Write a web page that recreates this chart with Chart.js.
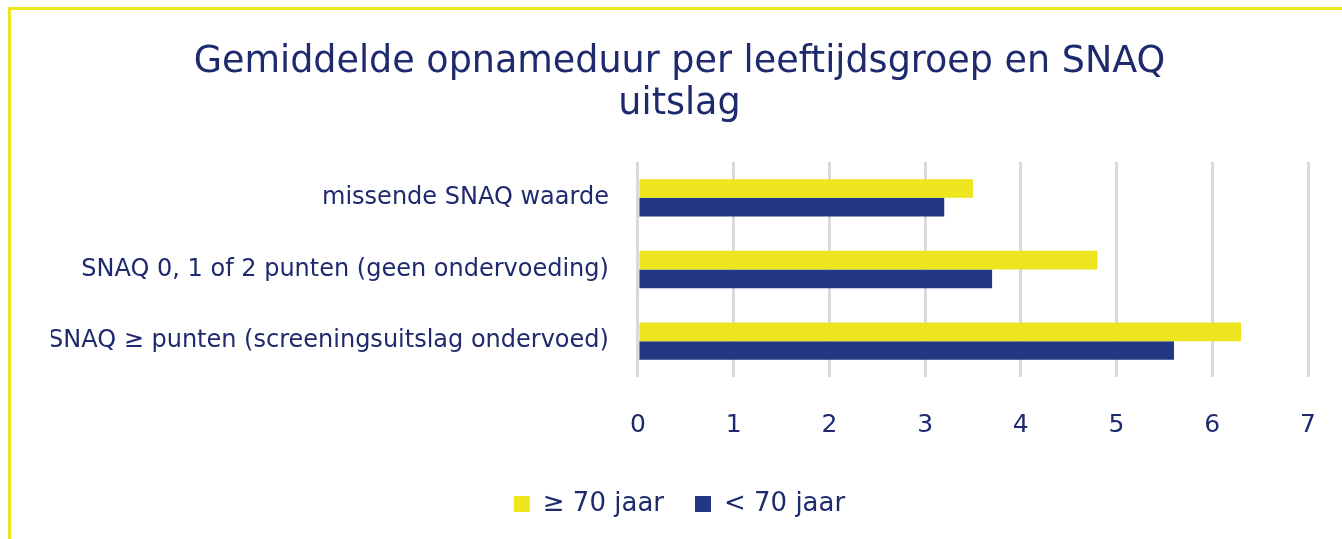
<!DOCTYPE html>
<html>
<head>
<meta charset="utf-8">
<script src="https://cdn.jsdelivr.net/npm/chart.js@4"></script>
<style>
  html, body { margin: 0; padding: 0; background: #fff; overflow: hidden; }
  .frame { position: absolute; left: 8px; top: 7px; width: 1400px; height: 600px; border: 3px solid #ede51e; box-sizing: border-box; }
  .wrap { position: absolute; left: 0; top: 0; width: 1342px; height: 539px; }
</style>
</head>
<body>
<div class="frame"></div>
<div class="wrap"><canvas id="snaqChart"></canvas></div>
<script>
const categories = [
  "missende SNAQ waarde",
  "SNAQ 0, 1 of 2 punten (geen ondervoeding)",
  "SNAQ \u2265 punten (screeningsuitslag ondervoed)"
];
const seriesNames = ["\u2265 70 jaar", "< 70 jaar"];
const oldValues = [3.5, 4.8, 6.3];
const youngValues = [3.2, 3.7, 5.6];
const xTicks = [0, 1, 2, 3, 4, 5, 6, 7];

const navyText = "#1f2a6e";
const yellow = "#ede51e";
const navy = "#223882";
const font = "'DejaVu Sans', Verdana, sans-serif";

// wider gap between legend items without making the legend box taller
const legendGap = {
  id: "legendGap",
  afterInit(chart) {
    const lg = chart.legend;
    if (!lg) return;
    const fit = lg.fit.bind(lg);
    const draw = lg.draw.bind(lg);
    lg.fit = function () { fit(); this.height -= 13; };
    lg.draw = function () {
      const top = this.top;
      this.top = top - 13;
      draw();
      this.top = top;
    };
  }
};

const ctx = document.getElementById("snaqChart");
new Chart(ctx, {
  type: "bar",
  data: {
    labels: categories,
    datasets: [
      { label: seriesNames[0], data: oldValues, backgroundColor: yellow, borderWidth: 0 },
      { label: seriesNames[1], data: youngValues, backgroundColor: navy, borderWidth: 0 }
    ]
  },
  plugins: [legendGap],
  options: {
    indexAxis: "y",
    responsive: true,
    maintainAspectRatio: false,
    animation: false,
    layout: { padding: { top: 0, right: 34, bottom: 12, left: 51 } },
    datasets: { bar: { barPercentage: 1, categoryPercentage: 0.52 } },
    plugins: {
      title: {
        display: true,
        text: ["Gemiddelde opnameduur per leeftijdsgroep en SNAQ", "uitslag"],
        color: navyText,
        font: { family: font, size: 36.5, weight: "normal", lineHeight: "42px" },
        padding: { top: 42, bottom: 36 }
      },
      legend: {
        position: "bottom",
        labels: {
          color: navyText,
          font: { family: font, size: 26 },
          boxWidth: 16,
          boxHeight: 16,
          padding: 31
        }
      },
      tooltip: { enabled: false }
    },
    scales: {
      x: {
        min: 0,
        max: 7,
        afterBuildTicks: axis => { axis.ticks = xTicks.map(v => ({ value: v })); },
        afterFit: axis => { axis.paddingLeft = 0; axis.paddingRight = 0; },
        grid: { color: "#d9d9d9", lineWidth: 3, drawTicks: false },
        border: { display: false },
        ticks: { color: navyText, font: { family: font, size: 25 }, padding: 33 }
      },
      y: {
        afterFit: axis => { axis.width -= 32; },
        grid: { display: false, drawTicks: false },
        border: { display: false },
        ticks: { color: navyText, font: { family: font, size: 24 }, padding: 29 }
      }
    }
  }
});
</script>
</body>
</html>
